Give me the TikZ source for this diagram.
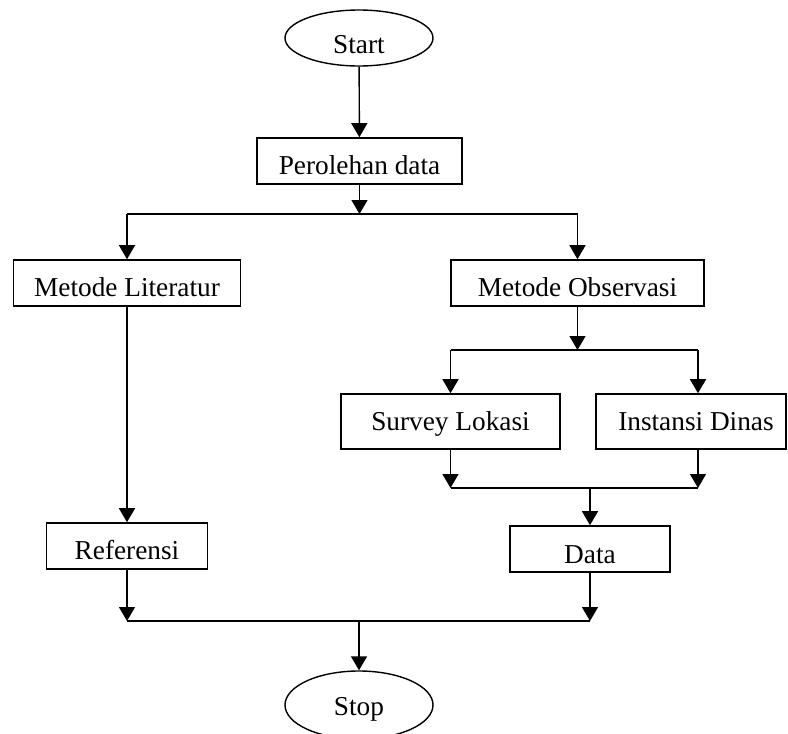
\documentclass[tikz,border=0pt]{standalone}
\usepackage{fontspec}
\setmainfont{Liberation Serif}
\usetikzlibrary{arrows.meta,shapes.geometric}
\begin{document}
\begin{tikzpicture}[x=1pt,y=-1pt,
  every node/.style={font=\fontsize{27.3}{30}\selectfont},
  box/.style={draw,line width=1.6pt,rectangle,inner sep=0pt,minimum height=46pt,text height=26pt,text depth=0pt},
  term/.style={draw,line width=1.4pt,ellipse,inner sep=0pt,minimum width=148pt,text depth=0pt},
  link/.style={line width=1.4pt},
  arr/.style={link,-{Triangle[width=16pt,length=14pt]}}]
\useasboundingbox (0,0) rectangle (788,734);

% terminals and process boxes
\node[term,minimum height=56pt,text height=30pt] (start) at (359,38) {Start};
\node[box,minimum width=205pt] (collect) at (359.5,161) {Perolehan data};
\node[box,minimum width=227pt] (lit) at (127,283) {Metode Literatur};
\node[box,minimum width=253pt] (obs) at (577.5,283) {Metode Observasi};
\node[box,minimum width=219pt,minimum height=55pt,text height=17pt] (survey) at (450.5,421.5) {Survey Lokasi};
\node[box,minimum width=190pt,minimum height=55pt,text height=17pt] (inst) at (691,421.5) {\hspace*{10pt}Instansi Dinas};
\node[box,minimum width=161pt] (ref) at (127,546) {Referensi};
\node[box,minimum width=160pt,text height=28pt] (data) at (590,549) {Data};
\node[term,minimum height=68pt,text height=20pt] (stop) at (359,705) {Stop};

% junction points of the branch and merge bars
\coordinate (s1) at (359.5,214);
\coordinate (s1l) at (127,214);
\coordinate (s1r) at (577.5,214);
\coordinate (s2) at (577.5,350);
\coordinate (s2l) at (450.5,350);
\coordinate (s2r) at (698,350);
\coordinate (m1l) at (450.5,488);
\coordinate (m1r) at (698,488);
\coordinate (m1) at (590,488);
\coordinate (m2l) at (127,621);
\coordinate (m2r) at (590,621);
\coordinate (m2) at (359,621);

% flow
\draw[arr] (start) -- (collect);
\draw[arr] (collect) -- (s1);
\draw[link] (s1l) -- (s1r);
\draw[arr] (s1l) -- (lit);
\draw[arr] (s1r) -- (obs);

\draw[arr] (obs) -- (s2);
\draw[link] (s2l) -- (s2r);
\draw[arr] (s2l) -- (survey);
\draw[arr] (s2r) -- (s2r |- inst.north);

\draw[arr] (survey) -- (m1l);
\draw[arr] (inst.south -| m1r) -- (m1r);
\draw[link] (m1l) -- (m1r);
\draw[arr] (m1) -- (data);

\draw[arr] (lit) -- (ref);
\draw[arr] (ref) -- (m2l);
\draw[arr] (data) -- (m2r);
\draw[link] (m2l) -- (m2r);
\draw[arr] (m2) -- (stop);
\end{tikzpicture}
\end{document}
